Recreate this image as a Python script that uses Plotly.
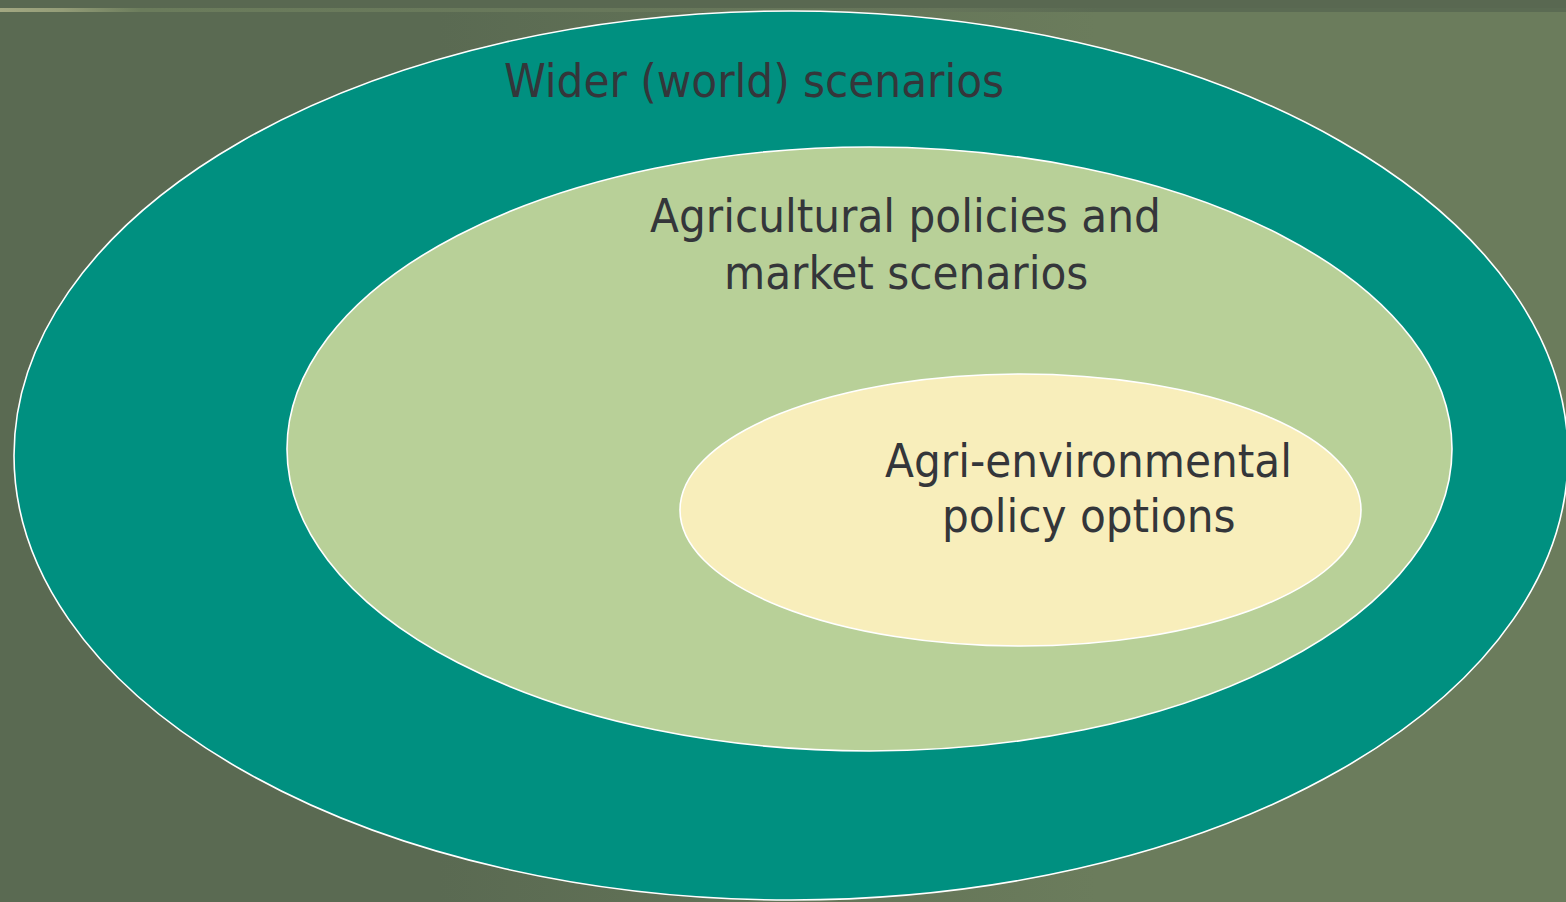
import plotly.graph_objects as go

W, H = 1566, 902

# Nested ellipse labels (outer -> inner), one entry per text line
outer_lines = ["Wider (world) scenarios"]
middle_lines = ["Agricultural policies and", "market scenarios"]
inner_lines = ["Agri-environmental", "policy options"]

fig = go.Figure()

# background horizontal gradient
fig.add_trace(go.Scatter(
    x=[0, W, W, 0, 0], y=[12, 12, H, H, 12], mode="lines", line=dict(width=0),
    fill="toself", hoverinfo="skip", showlegend=False,
    fillgradient=dict(type="horizontal",
                      colorscale=[[0, "#5a6a52"], [0.28, "#5a6a52"], [0.7, "#6b7c5c"], [1, "#6b7c5c"]]),
))
# top dark strip
fig.add_trace(go.Scatter(
    x=[0, W, W, 0, 0], y=[0, 0, 8, 8, 0], mode="lines", line=dict(width=0),
    fill="toself", fillcolor="#596851", hoverinfo="skip", showlegend=False,
))
# thin accent line
fig.add_trace(go.Scatter(
    x=[0, W, W, 0, 0], y=[8, 8, 12, 12, 8], mode="lines", line=dict(width=0),
    fill="toself", hoverinfo="skip", showlegend=False,
    fillgradient=dict(type="horizontal",
                      colorscale=[[0, "#a3a882"], [0.04, "#949d78"], [0.09, "#6b7c5c"], [0.6, "#66755a"], [0.7, "#5b6b53"], [1, "#5b6b53"]]),
))

ell = [
    dict(x0=14, x1=1568, y0=11, y1=900, fill="#009080"),
    dict(x0=287, x1=1452, y0=147, y1=751, fill="#b8d098"),
    dict(x0=680, x1=1361, y0=374, y1=646, fill="#f8eebb"),
]
for e in ell:
    fig.add_shape(type="circle", xref="x", yref="y", x0=e["x0"], x1=e["x1"], y0=e["y0"], y1=e["y1"],
                  fillcolor=e["fill"], line=dict(color="white", width=1.6), layer="above")

font = dict(family="DejaVu Sans Condensed, DejaVu Sans, sans-serif", size=47, color="#34363a")
positions = [
    (outer_lines, [(754, 80)]),
    (middle_lines, [(905, 215), (906, 272)]),
    (inner_lines, [(1088, 460), (1089, 515)]),
]
for lines, pos in positions:
    for txt, (px, py) in zip(lines, pos):
        fig.add_annotation(x=px, y=py, xref="x", yref="y", text=txt, showarrow=False,
                           xanchor="center", yanchor="middle", font=font)

fig.update_xaxes(range=[0, W], visible=False, fixedrange=True)
fig.update_yaxes(range=[H, 0], visible=False, fixedrange=True)
fig.update_layout(width=W, height=H, margin=dict(l=0, r=0, t=0, b=0),
                  paper_bgcolor="#5a6a52", plot_bgcolor="#5a6a52", showlegend=False)

fig.write_html("out.html", config={"displayModeBar": False},
               post_script="document.body.style.margin='0';document.body.style.overflow='hidden';")
